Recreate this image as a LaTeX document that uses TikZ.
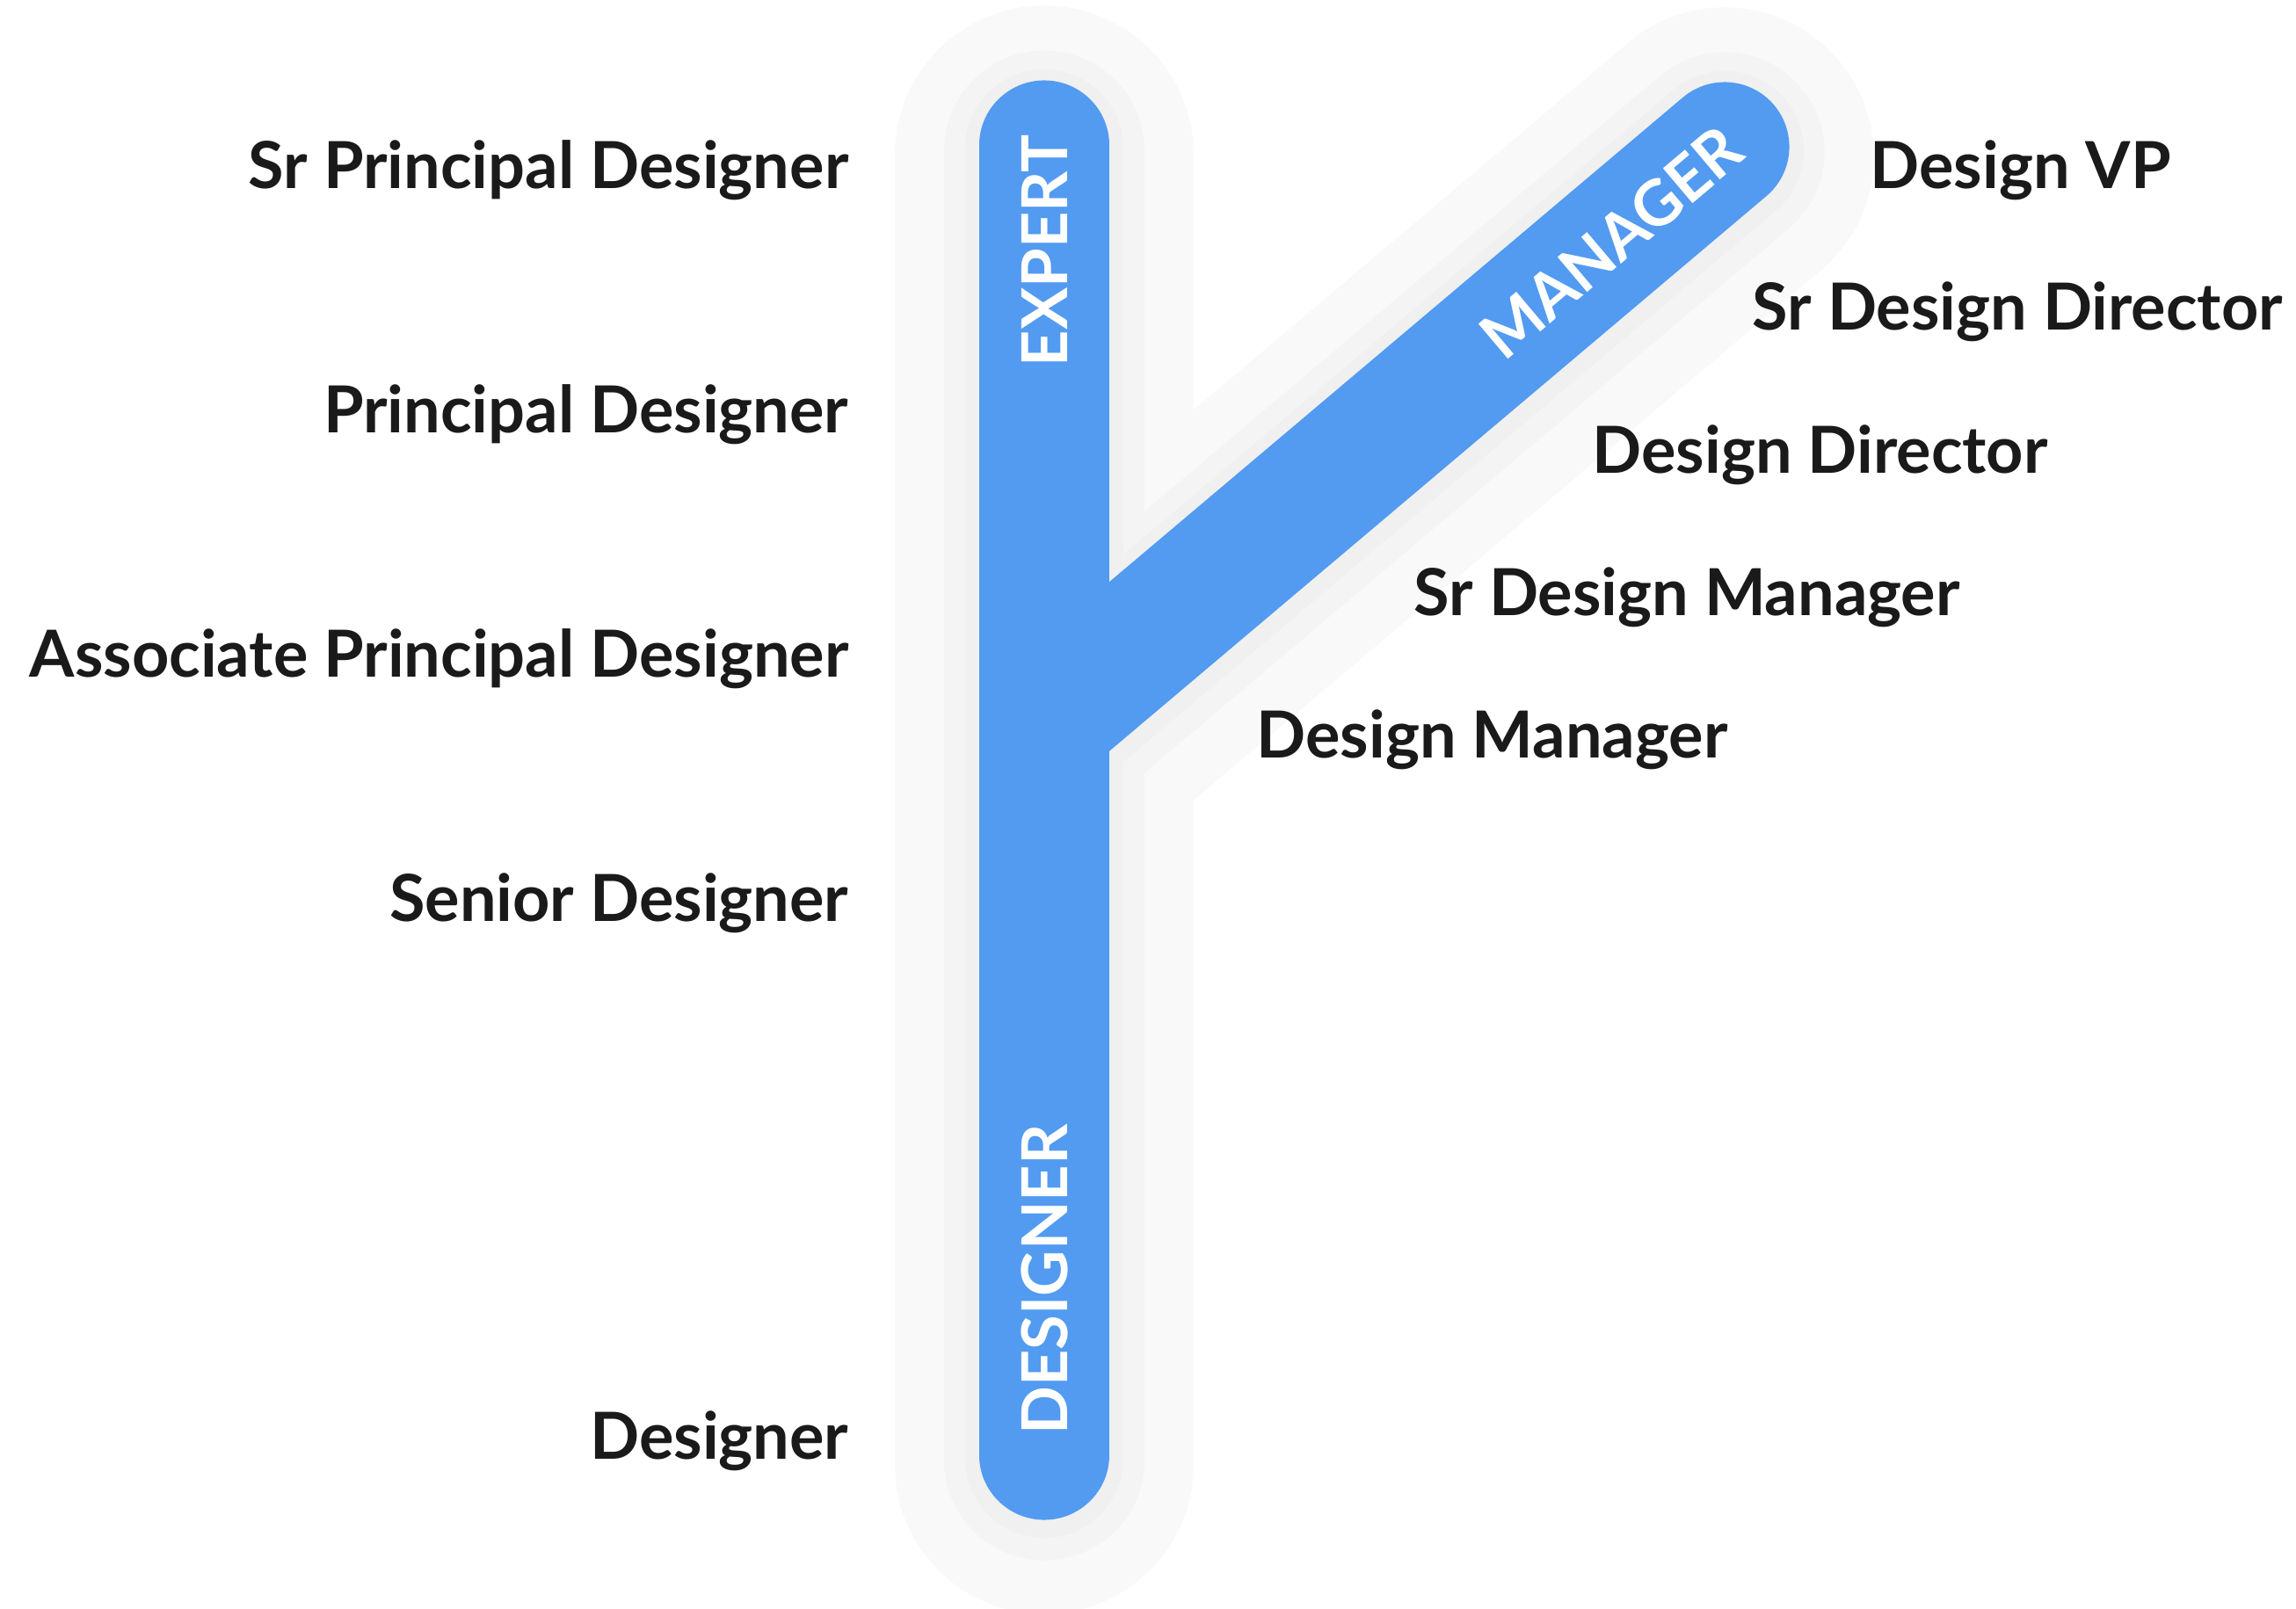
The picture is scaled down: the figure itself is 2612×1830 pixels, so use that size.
\documentclass[tikz,border=0pt]{standalone}
\usepackage{fontspec}
\setmainfont{Lato}
\definecolor{barblue}{HTML}{529BF0}
\definecolor{ink}{HTML}{1A1A1A}
\definecolor{haloA}{HTML}{F9F9F9}
\definecolor{haloB}{HTML}{F4F4F4}
\definecolor{haloC}{HTML}{F0F0F0}
\begin{document}
\begin{tikzpicture}[x=0.01cm,y=-0.01cm,
  lbl/.style={font=\bfseries\fontsize{21pt}{25pt}\selectfont, text=ink, inner sep=0pt},
  barlbl/.style={font=\bfseries\fontsize{20.5pt}{24pt}\selectfont, text=white, inner sep=0pt},
  limb/.style={line cap=round}]
\useasboundingbox[fill=white] (0,0) rectangle (2612,1830);
\coordinate (vt) at (1188,165);
\coordinate (vb) at (1188,1656);
\coordinate (ds) at (1188,821);
\coordinate (de) at (1962,167);
% halo / soft shadow
\foreach \w/\c/\s in {3.39cm/haloA/0.11cm, 2.27cm/haloB/0.06cm, 1.8cm/haloC/0.04cm}{
  \draw[limb, line width=\w, draw=\c] ([yshift=-\s]vt) -- ([yshift=-\s]vb);
  \draw[limb, line width=\w, draw=\c] ([yshift=-\s]ds) -- ([yshift=-\s]de);
}
% the Y
\draw[limb, line width=1.47cm, draw=barblue] (vt) -- (vb);
\draw[limb, line width=1.47cm, draw=barblue] (ds) -- (de);
% bar labels
\node[barlbl, rotate=90] (bexp) at (1188,285) {EXPERT};
\node[barlbl, rotate=90] (bdes) at (1188,1456) {DESIGNER};
\node[barlbl, rotate=40.2] (bman) at (1833,276) {MANAGER};
% left labels
\node[lbl, anchor=base east] (l1) at (966,214) {Sr Principal Designer};
\node[lbl, anchor=base east] (l2) at (966,492) {Principal Designer};
\node[lbl, anchor=base east] (l3) at (966,770) {Associate Principal Designer};
\node[lbl, anchor=base east] (l4) at (966,1048) {Senior Designer};
\node[lbl, anchor=base east] (l5) at (966,1660) {Designer};
% right labels
\node[lbl, anchor=base west] (r1) at (2127,214) {Design VP};
\node[lbl, anchor=base west] (r2) at (1993,375) {Sr Design Director};
\node[lbl, anchor=base west] (r3) at (1811,538) {Design Director};
\node[lbl, anchor=base west] (r4) at (1608,700) {Sr Design Manager};
\node[lbl, anchor=base west] (r5) at (1429,862) {Design Manager};
\end{tikzpicture}
\end{document}
